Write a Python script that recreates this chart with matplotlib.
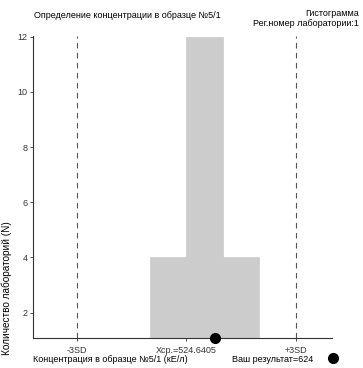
import matplotlib.pyplot as plt
import numpy as np

plt.rcParams['font.family'] = ['Liberation Sans', 'DejaVu Sans']

# Results of the interlab comparison
x_mean = 524.6405
sd = 125.0
your_result = 624
bin_edges_sd = [-1, 0, 1, 2]     # bin edges in SD units from the mean
counts = [4, 12, 4]
tick_names = ['-3SD', 'Xcp.=' + str(x_mean), '+3SD']

title = 'Определение концентрации в образце №5/1'
x_label = 'Концентрация в образце №5/1 (кЕ/л)'
y_label = 'Количество лабораторий (N)'

fig = plt.figure(figsize=(3.63, 3.68), dpi=100)
ax = fig.add_axes([33/363, 1 - 338/368, (332 - 33)/363, (338 - 36)/368])

#Histogram bars
edges = x_mean + sd*np.array(bin_edges_sd)
ax.bar(edges[:-1], counts, width=np.diff(edges), align='edge', bottom=0,
       color='#cccccc', edgecolor='#cccccc', linewidth=0.5, zorder=1)

#-3SD / +3SD lines
for k in (-3, 3):
    ax.axvline(x_mean + k*sd, color='#555555', linewidth=0.8,
               linestyle=(0, (5, 4)), zorder=2)

#Participant result on the axis
ax.plot([your_result], [1.08], 'o', color='black', markersize=7,
        clip_on=False, zorder=5)

ax.set_xlim(x_mean - 4.2*sd, x_mean + 4.0*sd)
ax.set_ylim(1.08, 12.03)
ax.set_yticks([2, 4, 6, 8, 10, 12])
ax.set_xticks([x_mean - 3*sd, x_mean, x_mean + 3*sd])
ax.set_xticklabels(tick_names)

for s in ('top', 'right'):
    ax.spines[s].set_visible(False)
for s in ('left', 'bottom'):
    ax.spines[s].set_linewidth(0.8)
    ax.spines[s].set_color('#333333')
ax.tick_params(axis='both', labelsize=6.5, length=2.5, width=0.6,
               pad=1.5, colors='#333333')
ax.tick_params(axis='x', pad=3)

#Texts around the plot
fig.text(127/363, 1 - 15/368, title, fontsize=6.5, ha='center', va='center')
fig.text(359/363, 1 - 14/368, 'Гистограмма', fontsize=6.5, ha='right', va='center')
fig.text(359/363, 1 - 24/368, 'Рег.номер лаборатории:1', fontsize=6.5,
         ha='right', va='center')
fig.text(33/363, 1 - 359/368, x_label, fontsize=6.5, ha='left', va='center')
fig.text(232/363, 1 - 359/368, 'Ваш результат=' + str(your_result),
         fontsize=6.5, ha='left', va='center')
fig.add_artist(plt.Line2D([333/363], [1 - 358/368], marker='o',
                          color='black', markersize=7,
                          transform=fig.transFigure))
fig.text(7/363, 1 - 288/368, y_label, fontsize=7.2, rotation=90,
         ha='center', va='center')

fig.savefig('out.png', dpi=100)
